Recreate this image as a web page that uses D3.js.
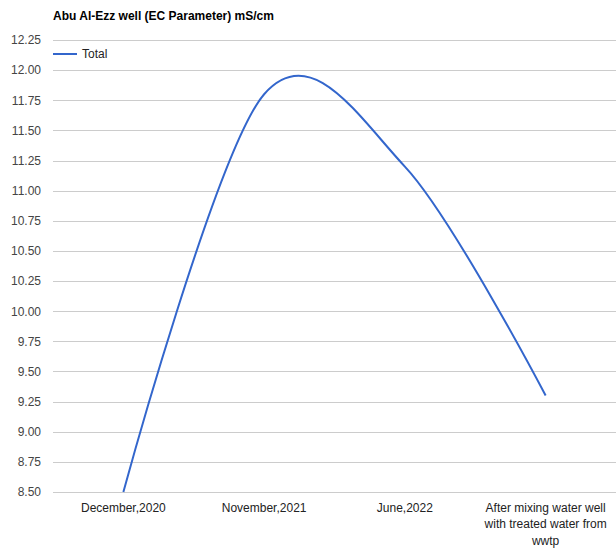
<!DOCTYPE html>
<html>
<head>
<meta charset="utf-8">
<script src="https://cdn.jsdelivr.net/npm/d3@7"></script>
<style>
  html, body { margin: 0; padding: 0; background: #fff; }
  svg { display: block; font-family: "Liberation Sans", Arial, sans-serif; }
</style>
</head>
<body>
<svg id="chart" width="616" height="548"></svg>
<script>
const title = "Abu Al-Ezz well (EC Parameter) mS/cm";
const seriesName = "Total";
const categories = ["December,2020", "November,2021", "June,2022", "After mixing water well with treated water from wwtp"];
const values = [8.5, 11.8, 11.2, 9.3];
const yTicks = [8.5, 8.75, 9.0, 9.25, 9.5, 9.75, 10.0, 10.25, 10.5, 10.75, 11.0, 11.25, 11.5, 11.75, 12.0, 12.25];

(function () {
const svg = d3.select("#chart");
const mLeft = 53, mRight = 616, mTop = 40, mBottom = 492;
const lineColor = "#3366cc";

const x = d3.scaleBand().domain(categories).range([mLeft, mRight]);
const y = d3.scaleLinear().domain([8.5, 12.25]).range([mBottom, mTop]);

// gridlines
svg.append("g").selectAll("line").data(yTicks).join("line")
  .attr("x1", mLeft).attr("x2", mRight)
  .attr("y1", d => Math.round(y(d)) + 0.5).attr("y2", d => Math.round(y(d)) + 0.5)
  .attr("stroke", "#cccccc").attr("stroke-width", 1);

// y axis labels
const yAxis = d3.axisLeft(y).tickValues(yTicks).tickFormat(d3.format(".2f")).tickSize(0).tickPadding(12);
const gy = svg.append("g").attr("transform", `translate(${mLeft},0)`).call(yAxis);
gy.select(".domain").remove();
gy.selectAll("text").attr("fill", "#444").style("font-size", "12px")
  .style("font-family", "'Liberation Sans', Arial, sans-serif");

// x axis labels
const xAxis = d3.axisBottom(x).tickSize(0).tickPadding(11);
const gx = svg.append("g").attr("transform", `translate(0,${mBottom})`).call(xAxis);
gx.select(".domain").remove();
gx.selectAll("text").attr("fill", "#222").style("font-size", "12px")
  .style("font-family", "'Liberation Sans', Arial, sans-serif")
  .each(function() {
    const t = d3.select(this);
    const words = t.text().split(" ");
    const maxW = 128;
    const dy0 = t.attr("dy");
    t.text(null);
    let line = [];
    let tspan = t.append("tspan").attr("x", 0).attr("dy", dy0);
    for (const w of words) {
      line.push(w);
      tspan.text(line.join(" "));
      if (tspan.node().getComputedTextLength() > maxW && line.length > 1) {
        line.pop();
        tspan.text(line.join(" "));
        line = [w];
        tspan = t.append("tspan").attr("x", 0).attr("dy", "16.5px").text(w);
      }
    }
  });

// line
const pts = categories.map((c, i) => [x(c) + x.bandwidth() / 2, y(values[i])]);
const lineGen = d3.line().curve(d3.curveCardinal.tension(0));
svg.append("path").attr("d", lineGen(pts))
  .attr("fill", "none").attr("stroke", lineColor).attr("stroke-width", 2);

// title
svg.append("text").attr("x", mLeft).attr("y", 20).text(title)
  .attr("fill", "#000").style("font-size", "12px").style("font-weight", "bold");

// legend
svg.append("line").attr("x1", mLeft).attr("x2", mLeft + 24).attr("y1", 54).attr("y2", 54)
  .attr("stroke", lineColor).attr("stroke-width", 2);
svg.append("text").attr("x", mLeft + 29).attr("y", 58).text(seriesName)
  .attr("fill", "#222").style("font-size", "12px");
})();
</script>
</body>
</html>
